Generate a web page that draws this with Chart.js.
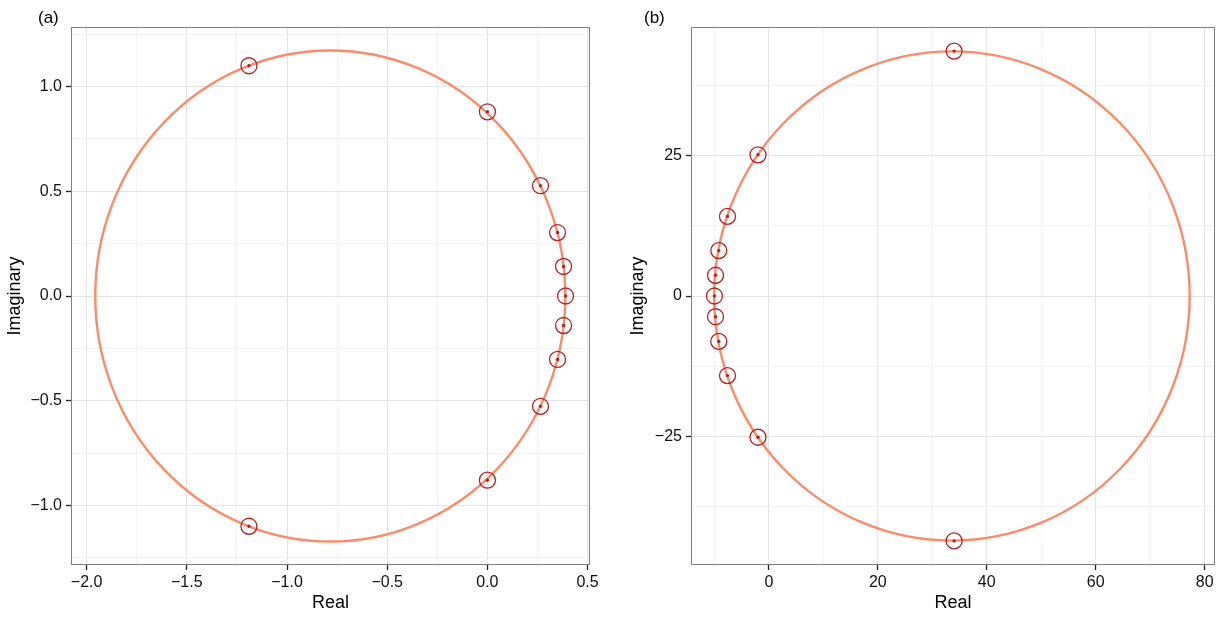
<!DOCTYPE html>
<html>
<head>
<meta charset="utf-8">
<script src="https://cdn.jsdelivr.net/npm/chart.js@4/dist/chart.umd.min.js"></script>
<style>
  body { margin: 0; background: #fff; }
  #wrap { position: relative; width: 1225px; height: 618px; }
  .panel { position: absolute; top: 0; }
  #pa { left: 0; }
  #pb { left: 612px; }
</style>
</head>
<body>
<div id="wrap">
  <div class="panel" id="pa"><canvas id="chartA" width="612" height="618"></canvas></div>
  <div class="panel" id="pb"><canvas id="chartB" width="613" height="618"></canvas></div>
</div>
<script>
// panel (a): roots in the complex plane
const realA = [-1.19, 0.00, 0.265, 0.35, 0.38, 0.39, 0.38, 0.35, 0.265, 0.00, -1.19];
const imagA = [1.10, 0.88, 0.527, 0.303, 0.141, 0.00, -0.141, -0.303, -0.527, -0.88, -1.10];
const circleA = { center: [-0.784, 0], radius: 1.173 };
const xMajorA = [-2, -1.5, -1, -0.5, 0, 0.5];
const xMinorA = [-1.75, -1.25, -0.75, -0.25, 0.25];
const yMajorA = [-1, -0.5, 0, 0.5, 1];
const yMinorA = [-1.25, -0.75, -0.25, 0.25, 0.75, 1.25];

// panel (b)
const realB = [34.0, -2.0, -7.6, -9.2, -9.8, -10.0, -9.8, -9.2, -7.6, -2.0, 34.0];
const imagB = [43.7, 25.2, 14.2, 8.1, 3.7, 0, -3.7, -8.1, -14.2, -25.2, -43.7];
const circleB = { center: [33.6, 0], radius: 43.65 };
const xMajorB = [0, 20, 40, 60, 80];
const xMinorB = [-10, 10, 30, 50, 70];
const yMajorB = [-25, 0, 25];
const yMinorB = [-37.5, -12.5, 12.5, 37.5];

const FONT = "'Liberation Sans', Arial, Helvetica, sans-serif";
const LINE_COL = '#FC8B6B';
const PT_COL = '#B22222';

const fitCircle = {
  id: 'fitCircle',
  beforeDatasetsDraw(chart, args, opts) {
    const { ctx, chartArea: a, scales: { x, y } } = chart;
    const cx = x.getPixelForValue(opts.center[0]);
    const cy = y.getPixelForValue(opts.center[1]);
    const rx = Math.abs(x.getPixelForValue(opts.center[0] + opts.radius) - cx);
    const ry = Math.abs(y.getPixelForValue(opts.center[1] + opts.radius) - cy);
    ctx.save();
    ctx.beginPath();
    ctx.rect(a.left, a.top, a.right - a.left, a.bottom - a.top);
    ctx.clip();
    ctx.beginPath();
    ctx.ellipse(cx, cy, rx, ry, 0, 0, 2 * Math.PI);
    ctx.strokeStyle = LINE_COL;
    ctx.lineWidth = 2.4;
    ctx.stroke();
    ctx.restore();
  }
};

const panelFrame = {
  id: 'panelFrame',
  afterDraw(chart, args, opts) {
    const { ctx, chartArea: a } = chart;
    ctx.save();
    ctx.strokeStyle = '#7f7f7f';
    ctx.lineWidth = 1;
    ctx.strokeRect(Math.round(a.left) + 0.5, Math.round(a.top) + 0.5,
      Math.round(a.right - a.left) - 1, Math.round(a.bottom - a.top) - 1);
    ctx.fillStyle = '#000';
    ctx.font = '17px ' + FONT;
    ctx.textBaseline = 'alphabetic';
    ctx.fillText(opts.tag, opts.tagX, opts.tagY);
    ctx.restore();
  }
};

function fmtA(v) {
  return v.toFixed(1).replace('-', '\u2212');
}
function fmtB(v) {
  return String(v).replace('-', '\u2212');
}

function axis(major, minor, min, max, fmt, title, titlePad, size, horizontal) {
  const all = major.concat(minor).sort((p, q) => p - q);
  const isMajor = v => major.some(m => Math.abs(m - v) < 1e-9);
  return {
    type: 'linear',
    position: horizontal ? 'bottom' : 'left',
    min, max,
    afterBuildTicks: s => { s.ticks = all.map(v => ({ value: v })); },
    afterFit: s => { if (horizontal) s.height = size; else s.width = size; },
    border: { display: false },
    grid: {
      color: c => (c.tick && isMajor(c.tick.value)) ? '#e3e3e3' : '#f3f3f3',
      lineWidth: 1,
      drawTicks: true,
      tickLength: 5,
      tickColor: c => (c.tick && isMajor(c.tick.value)) ? '#222' : 'rgba(0,0,0,0)',
      tickWidth: 1.3
    },
    ticks: {
      autoSkip: false,
      maxRotation: 0,
      padding: horizontal ? 3 : 4,
      color: '#111',
      font: { family: FONT, size: 16 },
      callback: v => isMajor(v) ? fmt(v) : ''
    },
    title: {
      display: true,
      text: title,
      color: '#000',
      font: { family: FONT, size: 18 },
      padding: horizontal ? { top: 0, bottom: titlePad } : { top: titlePad, bottom: 0 }
    }
  };
}

function makeChart(id, re, im, circle, xs, ys, frame, padRight) {
  const pts = re.map((v, i) => ({ x: v, y: im[i] }));
  return new Chart(document.getElementById(id), {
    type: 'scatter',
    data: {
      datasets: [
        { data: pts, pointRadius: 8, pointBorderWidth: 1.3, pointBorderColor: PT_COL,
          pointBackgroundColor: 'rgba(0,0,0,0)', pointStyle: 'circle' },
        { data: pts, pointRadius: 1.7, pointBorderWidth: 0, pointBackgroundColor: PT_COL }
      ]
    },
    options: {
      responsive: false,
      animation: false,
      devicePixelRatio: 1,
      layout: { padding: { top: 27, right: padRight, left: 0, bottom: 0 } },
      scales: { x: xs, y: ys },
      plugins: {
        legend: { display: false },
        tooltip: { enabled: false },
        fitCircle: circle,
        panelFrame: frame
      }
    },
    plugins: [fitCircle, panelFrame]
  });
}

makeChart('chartA', realA, imagA, circleA,
  axis(xMajorA, xMinorA, -2.078, 0.512, fmtA, 'Real', 4, 53, true),
  axis(yMajorA, yMinorA, -1.285, 1.285, fmtA, 'Imaginary', 4, 71, false),
  { tag: '(a)', tagX: 38, tagY: 23 }, 22);

makeChart('chartB', realB, imagB, circleB,
  axis(xMajorB, xMinorB, -14.3, 81.9, fmtB, 'Real', 4, 53, true),
  axis(yMajorB, yMinorB, -48.0, 48.0, fmtB, 'Imaginary', 15, 79, false),
  { tag: '(b)', tagX: 32, tagY: 23 }, 10);
</script>
</body>
</html>
